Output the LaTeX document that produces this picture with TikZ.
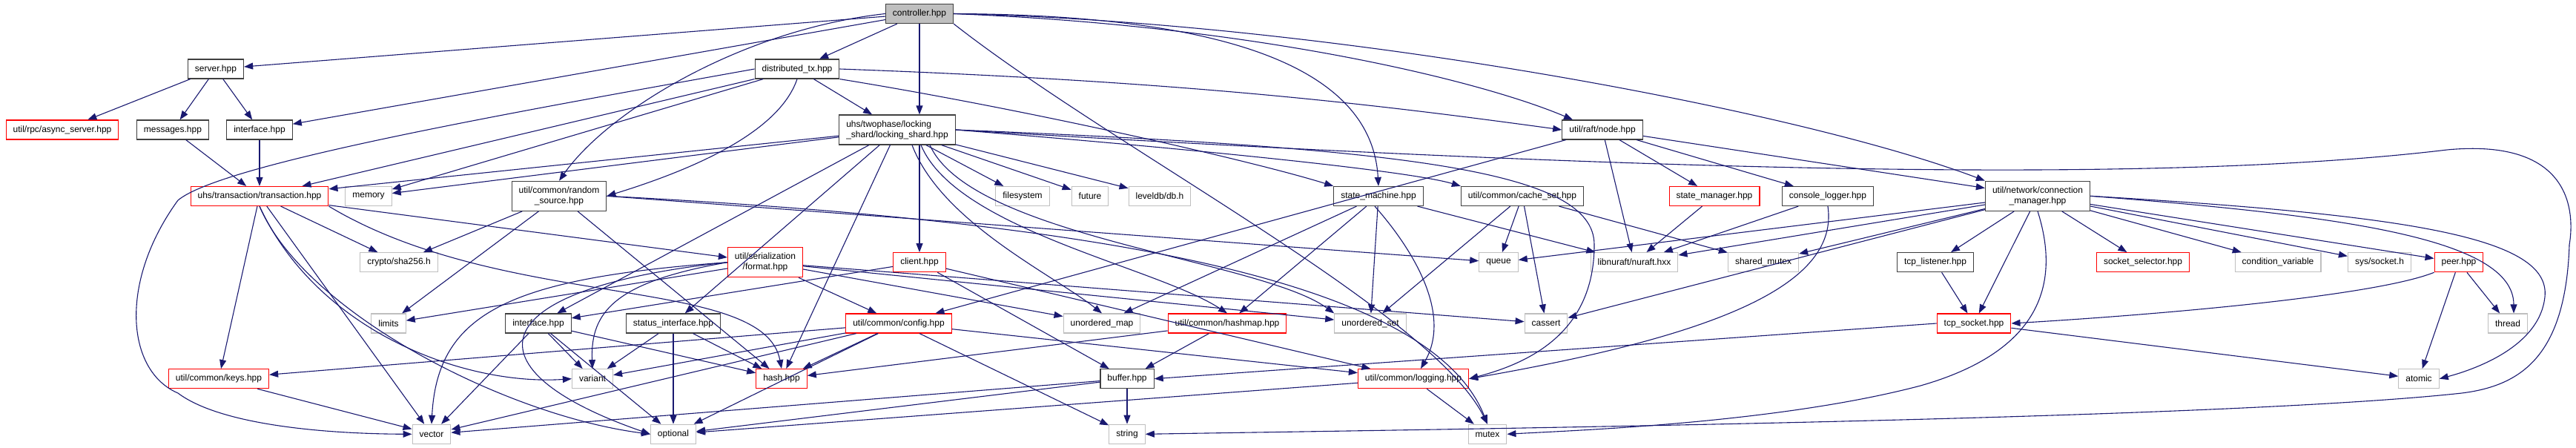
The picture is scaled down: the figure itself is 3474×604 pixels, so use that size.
\documentclass[tikz,border=0pt]{standalone}
\usepackage{fontspec}
\setmainfont{Liberation Sans}
\usetikzlibrary{arrows.meta}
\definecolor{edgec}{HTML}{191970}
\definecolor{boxblk}{HTML}{404040}
\definecolor{boxgray}{HTML}{BFBFBF}
\definecolor{boxred}{HTML}{FF0000}
\definecolor{rootfill}{HTML}{BFBFBF}
\begin{document}
\begin{tikzpicture}[x=1pt,y=-1pt,
  nd/.style={font=\fontsize{12}{14}\selectfont, inner xsep=9.5pt, inner ysep=2pt, minimum height=26pt, fill=white, line width=1.2pt, align=center},
  nroot/.style={nd, draw=boxblk, fill=rootfill},
  nblk/.style={nd, draw=boxblk},
  nred/.style={nd, draw=boxred},
  ngray/.style={nd, draw=boxgray},
  tall/.style={minimum height=40pt},
  dep/.style={draw=edgec, line width=1.1pt, -{Triangle[length=12pt,width=9pt]}}
]
\useasboundingbox (0,0) rectangle (3474,604);
% row 1
\node[nroot] (ctrl) at (1240,18.5) {controller.hpp};
% row 2
\node[nblk] (server) at (291,93) {server.hpp};
\node[nblk] (dtx) at (1075,93) {distributed\_tx.hpp};
% row 3
\node[nred] (async) at (84,175) {util/rpc/async\_server.hpp};
\node[nblk] (msgs) at (233,175) {messages.hpp};
\node[nblk] (ifa) at (350,175) {interface.hpp};
\node[nblk,tall,align=left] (ls) at (1210,175) {uhs/twophase/locking\\\_shard/locking\_shard.hpp};
\node[nblk] (node) at (2161,175) {util/raft/node.hpp};
% row 4
\node[nred] (tx) at (350,264.5) {uhs/transaction/transaction.hpp};
\node[ngray] (mem) at (497,264.5) {memory};
\node[nblk,tall] (rs) at (754,264.3) {util/common/random\\\_source.hpp};
\node[ngray] (fs) at (1379,264.5) {filesystem};
\node[ngray] (fut) at (1470,264.5) {future};
\node[ngray] (ldb) at (1564,264.5) {leveldb/db.h};
\node[nblk] (sm) at (1859,264.5) {state\_machine.hpp};
\node[nblk] (cs) at (2053,264.5) {util/common/cache\_set.hpp};
\node[nred] (smgr) at (2312,264.5) {state\_manager.hpp};
\node[nblk] (clog) at (2465,264.5) {console\_logger.hpp};
\node[nblk,tall] (cm) at (2748,264.3) {util/network/connection\\\_manager.hpp};
% row 5
\node[ngray] (crypto) at (538,353.7) {crypto/sha256.h};
\node[nred,tall] (fmt) at (1032,353.7) {util/serialization\\/format.hpp};
\node[nred] (client) at (1240,353.7) {client.hpp};
\node[ngray] (queue) at (2021,353.7) {queue};
\node[ngray] (nuraft) at (2204,353.7) {libnuraft/nuraft.hxx};
\node[ngray] (smtx) at (2378,353.7) {shared\_mutex};
\node[nblk] (tcpl) at (2610,353.7) {tcp\_listener.hpp};
\node[nred] (ssel) at (2890,353.7) {socket\_selector.hpp};
\node[ngray] (cv) at (3072,353.7) {condition\_variable};
\node[ngray] (sys) at (3209,353.7) {sys/socket.h};
\node[nred] (peer) at (3316,353.7) {peer.hpp};
% row 6
\node[ngray] (limits) at (524,436) {limits};
\node[nblk] (ifb) at (726,436) {interface.hpp};
\node[nblk] (stat) at (908,436) {status\_interface.hpp};
\node[nred] (cfg) at (1212,436) {util/common/config.hpp};
\node[ngray] (umap) at (1486,436) {unordered\_map};
\node[nred] (hmap) at (1655,436) {util/common/hashmap.hpp};
\node[ngray] (uset) at (1848,436) {unordered\_set};
\node[ngray] (cass) at (2085,436) {cassert};
\node[nred] (tcps) at (2662,436) {tcp\_socket.hpp};
\node[ngray] (thread) at (3382,436) {thread};
% row 7
\node[nred] (keys) at (295,510.7) {util/common/keys.hpp};
\node[ngray] (variant) at (799,510.7) {variant};
\node[nred] (hash) at (1054,510.7) {hash.hpp};
\node[nblk] (buffer) at (1520,510.7) {buffer.hpp};
\node[nred] (logging) at (1906,510.7) {util/common/logging.hpp};
\node[ngray] (atomic) at (3262,510.7) {atomic};
% row 8
\node[ngray] (vector) at (582,585.3) {vector};
\node[ngray] (optional) at (908,585.3) {optional};
\node[ngray] (string) at (1520,585.3) {string};
\node[ngray] (mutex) at (2006,585.3) {mutex};

% ---- edges: controller
\draw[dep] (ctrl) -- (server);
\draw[dep] (ctrl) -- (ifa);
\draw[dep] (ctrl) -- (dtx);
\draw[dep] (ctrl) -- (ctrl|-ls.north);
\draw[dep] (ctrl.west) .. controls (1000,40) and (820,150) .. (rs.north);
\draw[dep] (ctrl.east) .. controls (1650,20) and (1850,90) .. (sm.north);
\draw[dep] (ctrl.east) .. controls (1700,35) and (2000,110) .. ([xshift=-40pt]node.north);
\draw[dep] (ctrl.east) .. controls (1800,30) and (2430,150) .. (cm.north west);
\draw[dep] (ctrl.south east) .. controls (1500,200) and (1930,420) .. (mutex.north);
% server
\draw[dep] (server) -- (async);
\draw[dep] (server) -- (msgs);
\draw[dep] (server) -- (ifa);
\draw[dep] (msgs) -- (tx);
\draw[dep] (ifa) -- (tx);
% distributed_tx
\draw[dep] (dtx) -- (ls);
\draw[dep] (dtx.east) .. controls (1600,110) and (1850,140) .. (node.west);
\draw[dep] (dtx) -- (tx);
\draw[dep] (dtx) -- (mem);
\draw[dep] (dtx.south) .. controls (1050,180) and (930,230) .. (rs.east);
\draw[dep] (dtx.south east) .. controls (1400,150) and (1700,220) .. (sm.north west);
\draw[dep] (dtx.west) .. controls (700,150) and (300,220) .. (240,270) .. controls (160,380) and (170,500) .. (240,530) .. controls (300,575) and (450,585) .. (vector.west);
% locking shard
\draw[dep] (ls) -- (tx);
\draw[dep] (ls) -- (mem);
\draw[dep] (ls) -- (fs);
\draw[dep] (ls) -- (fut);
\draw[dep] (ls) -- (ldb);
\draw[dep] (ctrl|-ls.south) -- (client);
\draw[dep] (ls.east) .. controls (1600,200) and (1900,230) .. (cs.north west);
\draw[dep] (ls) -- (ifb);
\draw[dep] (ls) -- (stat);
\draw[dep] (ls) -- (hash);
\draw[dep] ([xshift=20pt]ls.south) .. controls (1270,300) and (1420,370) .. (umap.north);
\draw[dep] ([xshift=32pt]ls.south) .. controls (1290,310) and (1560,360) .. (hmap.north);
\draw[dep] ([xshift=44pt]ls.south) .. controls (1310,320) and (1700,350) .. (uset.north west);
\draw[dep] (ls.east) .. controls (1900,200) and (2150,230) .. (2150,330) .. controls (2150,450) and (2060,490) .. (logging.east);
\draw[dep] (ls.east) .. controls (2200,230) and (2900,250) .. (3300,202) .. controls (3480,185) and (3470,300) .. (3465,330) .. controls (3460,480) and (3400,520) .. (3320,530) .. controls (3000,565) and (2000,578) .. (string.east);
% transaction
\draw[dep] (tx) -- (fmt);
\draw[dep] (tx) -- (crypto);
\draw[dep] (tx) -- (keys);
\draw[dep] (tx) -- (vector);
\draw[dep] (tx.south) .. controls (430,450) and (630,520) .. (variant.west);
\draw[dep] (tx.south) .. controls (410,420) and (680,560) .. (optional.west);
\draw[dep] (tx.south east) .. controls (680,420) and (1030,370) .. (hash.north);
% random source
\draw[dep] (rs) -- (crypto);
\draw[dep] (rs) -- (limits);
\draw[dep] (rs) -- (hash);
\draw[dep] (rs.east) -- (queue);
\draw[dep] (rs.east) .. controls (1500,300) and (1930,380) .. (mutex.north);
% format
\draw[dep] (fmt.west) .. controls (690,375) and (590,420) .. (vector.north);
\draw[dep] (fmt.west) .. controls (830,380) and (796,420) .. (variant.north);
\draw[dep] (fmt) -- (limits);
\draw[dep] (fmt.west) .. controls (640,390) and (630,500) .. (optional.west);
\draw[dep] (fmt) -- (cfg);
\draw[dep] (fmt) -- (umap);
\draw[dep] (fmt) -- (uset);
\draw[dep] (fmt) -- (cass);
% client
\draw[dep] (client) -- (ifb);
\draw[dep] (client) -- (buffer);
\draw[dep] (client) -- (logging);
% interface 2, status
\draw[dep] (ifb) -- (vector);
\draw[dep] (ifb) -- (variant);
\draw[dep] (ifb) -- (optional);
\draw[dep] (ifb) -- (hash);
\draw[dep] (stat) -- (variant);
\draw[dep] (stat) -- (optional);
\draw[dep] (stat) -- (hash);
% config
\draw[dep] (cfg) -- (keys);
\draw[dep] (cfg) -- (vector);
\draw[dep] (cfg) -- (optional);
\draw[dep] (cfg) -- (string);
\draw[dep] (cfg) -- (hash);
\draw[dep] (cfg) -- (variant);
\draw[dep] (cfg) -- (logging);
% keys, hashmap, buffer, logging
\draw[dep] (keys) -- (vector);
\draw[dep] (hmap) -- (hash);
\draw[dep] (hmap) -- (buffer);
\draw[dep] (buffer) -- (string);
\draw[dep] (buffer) -- (vector);
\draw[dep] (buffer) -- (optional);
\draw[dep] (logging) -- (mutex);
\draw[dep] (logging) -- (optional);
% state machine
\draw[dep] (sm) -- (umap);
\draw[dep] (sm) -- (hmap);
\draw[dep] (sm) -- (uset);
\draw[dep] ([xshift=-5pt]sm.south) .. controls (1900,330) and (1960,420) .. ([xshift=10pt]logging.north);
\draw[dep] (sm) -- (nuraft);
% cache set
\draw[dep] (cs) -- (queue);
\draw[dep] (cs) -- (uset);
\draw[dep] (cs) -- (cass);
\draw[dep] (cs) -- (smtx);
% node
\draw[dep] (node) -- (smgr);
\draw[dep] (node) -- (clog);
\draw[dep] (node) -- (nuraft);
\draw[dep] (node) -- (cm);
\draw[dep] (node) -- (cfg);
\draw[dep] (smgr) -- (nuraft);
\draw[dep] (clog) -- (nuraft);
\draw[dep] (clog.south) .. controls (2480,380) and (2330,450) .. (logging.east);
% connection manager
\draw[dep] (cm) -- (queue);
\draw[dep] (cm) -- (nuraft);
\draw[dep] (cm) -- (smtx);
\draw[dep] (cm) -- (cass);
\draw[dep] (cm) -- (tcpl);
\draw[dep] (cm) -- (tcps);
\draw[dep] (cm) -- (ssel);
\draw[dep] (cm) -- (cv);
\draw[dep] (cm) -- (sys);
\draw[dep] (cm) -- (peer);
\draw[dep] (cm.east) .. controls (3150,290) and (3390,320) .. ([xshift=8pt]thread.north);
\draw[dep] (cm.east) .. controls (3250,290) and (3440,320) .. (3432,400) .. controls (3425,470) and (3330,500) .. (atomic.east);
\draw[dep] (cm.south) .. controls (2775,370) and (2765,470) .. (2590,520) .. controls (2400,570) and (2130,580) .. (mutex.east);
% tcp
\draw[dep] (tcpl) -- (tcps);
\draw[dep] (tcps.west) -- (buffer.east);
\draw[dep] (tcps) -- (atomic);
\draw[dep] (peer.south west) .. controls (3200,400) and (2900,425) .. (tcps.east);
\draw[dep] (peer) -- (thread);
\draw[dep] (peer) -- (atomic);
\end{tikzpicture}
\end{document}
